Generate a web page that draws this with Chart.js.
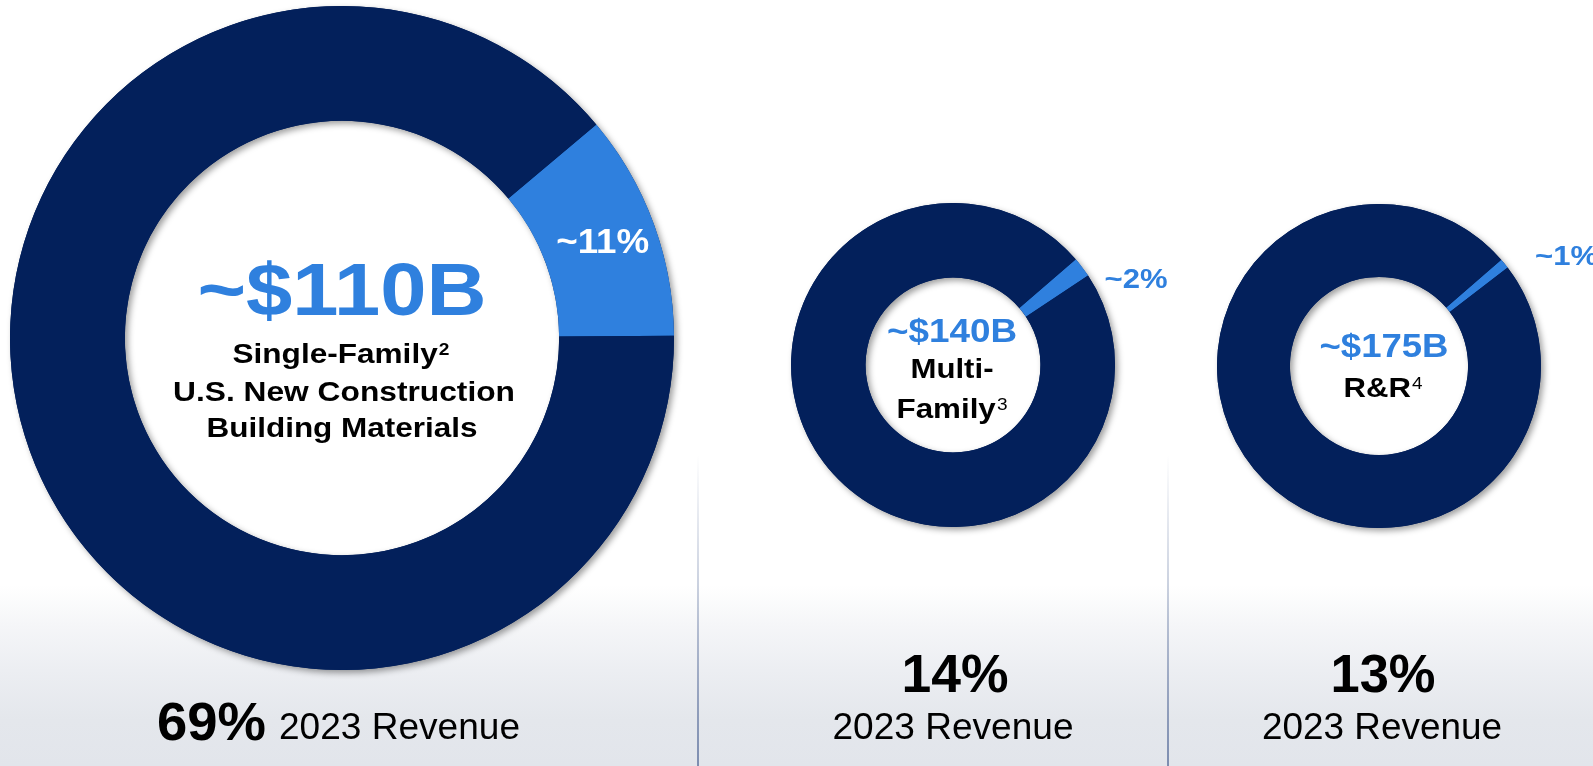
<!DOCTYPE html>
<html><head><meta charset="utf-8">
<script src="https://cdn.jsdelivr.net/npm/chart.js@4.4.1/dist/chart.umd.min.js"></script>
<style>
html,body{margin:0;padding:0;}
body{width:1593px;height:766px;overflow:hidden;position:relative;
background:linear-gradient(to bottom,#ffffff 0px,#ffffff 585px,#f5f6f8 625px,#eceef2 670px,#e4e7ec 720px,#e2e5eb 766px);}
canvas{position:absolute;left:0;top:0;}
.divider{position:absolute;top:455px;width:2px;height:311px;background:linear-gradient(to bottom,rgba(130,146,180,0) 0%,rgba(130,146,180,0.45) 45%,#7d8db0 100%);}
</style></head>
<body>
<div class="divider" style="left:697px"></div>
<div class="divider" style="left:1167px"></div>
<canvas id="c0" width="1593" height="766"></canvas>
<canvas id="c1" width="1593" height="766"></canvas>
<canvas id="c2" width="1593" height="766"></canvas>
<script>
// ---- data ----
const segments = ['Single-Family', 'Multi-Family', 'R&R'];
const marketSizeLabels = ['~$110B', '~$140B', '~$175B'];
const shareOfMarket = [11, 2, 1];          // % of market (light blue slice)
const restOfMarket = [89, 98, 99];         // remainder of market (navy)
const revenueShare = ['69%', '14%', '13%'];
const revenueLabel = '2023 Revenue';
const footnotes = ['2', '3', '4'];

// ---- style ----
const FONT = '"Liberation Sans", Arial, Helvetica, sans-serif';
const NAVY = '#03205b';
const BLUE = '#2f80de';

function drawText(ctx, t) {
  ctx.save();
  ctx.fillStyle = t.color || '#000';
  ctx.textBaseline = 'alphabetic';
  ctx.textAlign = 'left';
  const mainFont = (t.weight || 'bold') + ' ' + t.size + 'px ' + FONT;
  const supSize = Math.round(t.size * 0.6);
  const supFont = (t.supWeight || 'normal') + ' ' + supSize + 'px ' + FONT;
  ctx.font = mainFont;
  const mw = ctx.measureText(t.text).width;
  let sw = 0;
  if (t.sup) { ctx.font = supFont; sw = ctx.measureText(t.sup).width + 1; }
  const natural = mw + sw;
  const sx = t.width ? t.width / natural : 1;
  const total = natural * sx;
  const left = t.align === 'left' ? t.x : t.x - total / 2;
  ctx.translate(left, t.y);
  ctx.scale(sx, 1);
  ctx.font = mainFont;
  ctx.fillText(t.text, 0, 0);
  if (t.sup) {
    ctx.font = supFont;
    ctx.fillText(t.sup, mw + 1, -t.size * 0.286);
  }
  ctx.restore();
}

const ringShadow = {
  id: 'ringShadow',
  beforeDatasetsDraw(chart) {
    const a = chart.getDatasetMeta(0).data[0];
    if (!a) return;
    const ctx = chart.ctx;
    ctx.save();
    ctx.shadowColor = 'rgba(0,0,0,0.38)';
    ctx.shadowBlur = 6;
    ctx.shadowOffsetX = 3;
    ctx.shadowOffsetY = 3;
    ctx.fillStyle = NAVY;
    ctx.beginPath();
    ctx.arc(a.x, a.y, a.outerRadius, 0, Math.PI * 2);
    ctx.moveTo(a.x + a.innerRadius, a.y);
    ctx.arc(a.x, a.y, a.innerRadius, 0, Math.PI * 2, true);
    ctx.closePath();
    ctx.fill();
    ctx.restore();
  }
};

function textPlugin(texts, sliceLabel) {
  return {
    id: 'texts',
    afterDatasetsDraw(chart) {
      const ctx = chart.ctx;
      texts.forEach(t => drawText(ctx, t));
      if (sliceLabel) {
        const arc = chart.getDatasetMeta(0).data[0];
        const p = arc.getCenterPoint();
        drawText(ctx, Object.assign({}, sliceLabel, { x: p.x + sliceLabel.dx, y: p.y + sliceLabel.dy }));
      }
    }
  };
}

function donut(id, idx, cutout, rotation, padding, texts, sliceLabel) {
  return new Chart(document.getElementById(id), {
    type: 'doughnut',
    data: {
      labels: [segments[idx] + ' share', 'Rest of market'],
      datasets: [{
        data: [shareOfMarket[idx], restOfMarket[idx]],
        backgroundColor: [BLUE, NAVY],
        borderWidth: 0,
        hoverOffset: 0,
        offset: 0
      }]
    },
    options: {
      responsive: false,
      animation: false,
      devicePixelRatio: 1,
      cutout: cutout,
      rotation: rotation,
      events: [],
      layout: { padding: padding },
      plugins: { legend: { display: false }, tooltip: { enabled: false } }
    },
    plugins: [ringShadow, textPlugin(texts, sliceLabel)]
  });
}

// Single-Family
donut('c0', 0, '65.4%', 50, { left: 10, top: 6, right: 919, bottom: 96 }, [
  { text: marketSizeLabels[0], x: 342, y: 315, size: 75, color: BLUE, width: 289 },
  { text: 'Single-Family', sup: footnotes[0], supWeight: 'bold', x: 341, y: 363, size: 28, width: 217 },
  { text: 'U.S. New Construction', x: 344, y: 401, size: 28, width: 342 },
  { text: 'Building Materials', x: 342, y: 437, size: 28, width: 271 },
  { text: revenueShare[0], x: 157, y: 740, size: 53, width: 109, align: 'left' },
  { text: revenueLabel, x: 279, y: 739, size: 37, weight: 'normal', width: 241, align: 'left' }
], { text: '~' + shareOfMarket[0] + '%', size: 35, color: '#ffffff', width: 93, dx: 3, dy: 10 });

// Multi-Family
donut('c1', 1, '54%', 49.3, { left: 791, top: 203, right: 478, bottom: 239 }, [
  { text: marketSizeLabels[1], x: 952, y: 342, size: 33, color: BLUE, width: 130 },
  { text: 'Multi-', x: 952, y: 378, size: 28, width: 83 },
  { text: 'Family', sup: footnotes[1], x: 952, y: 418, size: 28, width: 111 },
  { text: '~' + shareOfMarket[1] + '%', x: 1136, y: 288, size: 28, color: BLUE, width: 63 },
  { text: revenueShare[1], x: 955, y: 692, size: 53, width: 107 },
  { text: revenueLabel, x: 953, y: 739, size: 37, weight: 'normal', width: 241 }
]);

// R&R
donut('c2', 2, '55%', 49, { left: 1217, top: 204, right: 52, bottom: 238 }, [
  { text: marketSizeLabels[2], x: 1384, y: 357, size: 33, color: BLUE, width: 129 },
  { text: 'R&R', sup: footnotes[2], x: 1383, y: 397, size: 28, width: 79 },
  { text: '~' + shareOfMarket[2] + '%', x: 1535, y: 265, size: 28, color: BLUE, width: 63, align: 'left' },
  { text: revenueShare[2], x: 1383, y: 692, size: 53, width: 105 },
  { text: revenueLabel, x: 1382, y: 739, size: 37, weight: 'normal', width: 240 }
]);
</script>
</body></html>
